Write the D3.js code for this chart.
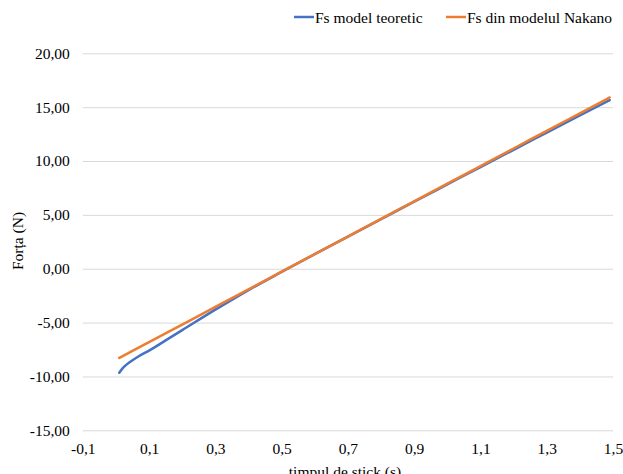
<!DOCTYPE html>
<html>
<head>
<meta charset="utf-8">
<script src="https://cdn.jsdelivr.net/npm/d3@7"></script>
<style>
  html, body { margin: 0; padding: 0; background: #fff; }
  svg { display: block; }
  svg text { font-family: "Liberation Serif", "Times New Roman", "DejaVu Serif", serif !important; }
</style>
</head>
<body>
<svg id="chart" width="623" height="474"></svg>
<script>
// Stick time (s) at which each force value was sampled
const timeTeoretic = [0.01, 0.02, 0.03, 0.05, 0.07, 0.10, 0.15, 0.20, 0.30, 0.40, 0.50, 0.60, 0.70, 0.80, 0.90, 1.00, 1.10, 1.20, 1.30, 1.40, 1.49];
const fsTeoretic   = [-9.65, -9.25, -8.95, -8.50, -8.10, -7.60, -6.65, -5.70, -3.80, -1.98, -0.30, 1.35, 2.98, 4.60, 6.22, 7.83, 9.44, 11.04, 12.64, 14.24, 15.65];

const timeNakano = [0.01, 0.05, 0.10, 0.20, 0.30, 0.40, 0.50, 0.60, 0.70, 0.80, 0.90, 1.00, 1.10, 1.20, 1.30, 1.40, 1.49];
const fsNakano   = [-8.28, -7.63, -6.81, -5.18, -3.54, -1.91, -0.27, 1.36, 2.99, 4.63, 6.26, 7.90, 9.53, 11.16, 12.80, 14.43, 15.90];

const xTicks = [-0.1, 0.1, 0.3, 0.5, 0.7, 0.9, 1.1, 1.3, 1.5];
const yTicks = [-15, -10, -5, 0, 5, 10, 15, 20];

const seriesNames = ["Fs model teoretic", "Fs din modelul Nakano"];
const seriesColors = ["#4472C4", "#ED7D31"];

const svg = d3.select("#chart");
const plot = { left: 82.8, right: 613, top: 53.3, bottom: 430.3 };

const x = d3.scaleLinear().domain([-0.1, 1.5]).range([plot.left, plot.right]);
const y = d3.scaleLinear().domain([-15, 20]).range([plot.bottom, plot.top]);

const comma = v => v.toFixed(2).replace(".", ",");
const commaX = v => v.toFixed(1).replace(".", ",");

// Horizontal gridlines with y labels
const yAxis = d3.axisLeft(y).tickValues(yTicks).tickSize(-(plot.right - plot.left)).tickPadding(13).tickFormat(comma);
const gy = svg.append("g").attr("transform", `translate(${plot.left},0)`).call(yAxis);
gy.select(".domain").remove();
gy.selectAll(".tick line").attr("stroke", "#d9d9d9").attr("stroke-width", 1);
gy.selectAll(".tick text").attr("font-size", 15.5).attr("fill", "#000");

// X labels (no axis line)
const xAxis = d3.axisBottom(x).tickValues(xTicks).tickSize(0).tickPadding(13).tickFormat(commaX);
const gx = svg.append("g").attr("transform", `translate(0,${plot.bottom})`).call(xAxis);
gx.select(".domain").remove();
gx.selectAll(".tick text").attr("font-size", 15.5).attr("fill", "#000");

// Series lines
const line = d3.line().x(d => x(d[0])).y(d => y(d[1])).curve(d3.curveMonotoneX);
const series = [
  d3.zip(timeTeoretic, fsTeoretic),
  d3.zip(timeNakano, fsNakano)
];
series.forEach((pts, i) => {
  svg.append("path").datum(pts)
    .attr("fill", "none")
    .attr("stroke", seriesColors[i])
    .attr("stroke-width", 2.5)
    .attr("stroke-linejoin", "round")
    .attr("stroke-linecap", "round")
    .attr("d", line);
});

// Axis titles
svg.append("text")
  .attr("x", 345).attr("y", 477)
  .attr("text-anchor", "middle").attr("font-size", 15.5).attr("fill", "#000")
  .text("timpul de stick (s)");
svg.append("text")
  .attr("transform", "translate(23,241) rotate(-90)")
  .attr("text-anchor", "middle").attr("font-size", 15.5).attr("fill", "#000")
  .text("Forța (N)");

// Legend
const legendX = [294, 446];
seriesNames.forEach((name, i) => {
  const g = svg.append("g").attr("transform", `translate(${legendX[i]},17)`);
  g.append("line").attr("x1", 0).attr("x2", 20).attr("y1", 0).attr("y2", 0)
    .attr("stroke", seriesColors[i]).attr("stroke-width", 2.5);
  g.append("text").attr("x", 21).attr("y", 6).attr("font-size", 15.5).attr("fill", "#000").text(name);
});
</script>
</body>
</html>
